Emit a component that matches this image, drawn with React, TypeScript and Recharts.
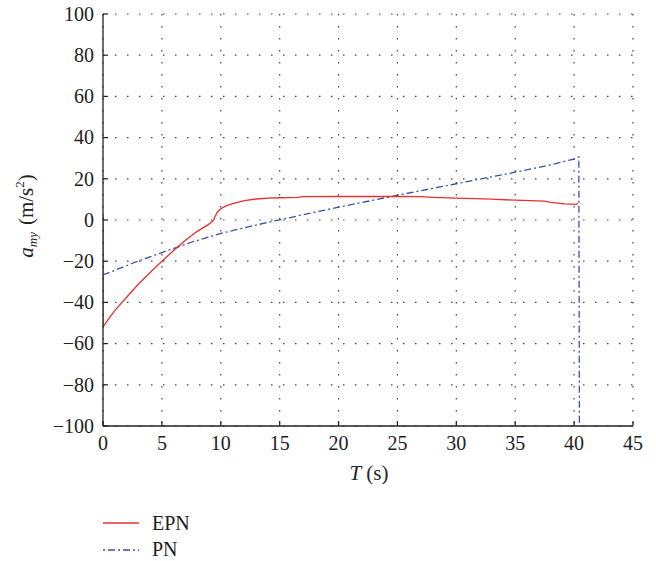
import { CartesianGrid, Line, LineChart, XAxis, YAxis } from "recharts";

// EPN acceleration curve
const epnTime = [0, 0, 0.5, 1, 2, 3, 4, 5, 6, 7, 8, 9, 9.4, 9.5, 9.7, 10, 10.5, 11, 12, 13, 14, 15, 16.5, 17, 20, 25, 27, 28, 30, 33, 35, 37.5, 38, 39.2, 40.2, 40.3];
const epnAcc = [3, -52, -47.8, -44, -37.5, -31.2, -25.5, -20, -14.8, -9.8, -5.5, -2, 0, 1.5, 3.8, 5.5, 7, 8, 9.4, 10.2, 10.6, 10.8, 11, 11.3, 11.4, 11.4, 11.3, 11, 10.6, 10.1, 9.6, 9.2, 8.6, 7.8, 7.6, 8.3];

// PN acceleration curve
const pnTime = [0, 2.5, 5, 7.5, 10, 12.5, 15, 17.5, 20, 22.5, 25, 27.5, 30, 32.5, 35, 37.5, 40, 40.4, 40.45];
const pnAcc = [-26.7, -21, -15.8, -10.8, -6.5, -3.1, 0.1, 3.2, 6.2, 9.1, 12, 14.8, 17.6, 20.4, 23.2, 26.1, 29.6, 30.6, -100];

const xTicks = [0, 5, 10, 15, 20, 25, 30, 35, 40, 45];
const yTicks = [-100, -80, -60, -40, -20, 0, 20, 40, 60, 80, 100];

const epn = epnTime.map((t, i) => ({ t, a: epnAcc[i] }));
const pn = pnTime.map((t, i) => ({ t, a: pnAcc[i] }));

const FONT = "'Liberation Serif', 'DejaVu Serif', serif";
const INK = "#222";
const RED = "#e8312f";
const BLUE = "#3a50a8";

const fmt = (v: number) => String(v).replace("-", "\u2212");

function BottomTick({ x, y, payload }: any) {
  return (
    <g>
      <line x1={x} x2={x} y1={y} y2={y - 5} stroke={INK} strokeWidth={1.2} />
      <text x={x} y={y + 24} textAnchor="middle" fontSize={20} fontFamily={FONT} fill={INK}>
        {fmt(payload.value)}
      </text>
    </g>
  );
}

function TopTick({ x, y }: any) {
  return <line x1={x} x2={x} y1={y} y2={y + 5} stroke={INK} strokeWidth={1.2} />;
}

function LeftTick({ x, y, payload }: any) {
  return (
    <g>
      <line x1={x} x2={x + 5} y1={y} y2={y} stroke={INK} strokeWidth={1.2} />
      <text x={x - 9} y={y} dy="0.34em" textAnchor="end" fontSize={20} fontFamily={FONT} fill={INK}>
        {fmt(payload.value)}
      </text>
    </g>
  );
}

function RightTick({ x, y }: any) {
  return <line x1={x} x2={x - 5} y1={y} y2={y} stroke={INK} strokeWidth={1.2} />;
}

const renderYLabel = () => (
  <text transform="translate(33,216) rotate(-90)" textAnchor="middle" fontSize={21} fontFamily={FONT} fill={INK}>
    <tspan fontStyle="italic">a</tspan>
    <tspan fontStyle="italic" fontSize={13} dy={4}>my</tspan>
    <tspan dy={-4} dx={7}>(m/s</tspan>
    <tspan fontSize={13} dy={-9}>2</tspan>
    <tspan dy={9}>)</tspan>
  </text>
);

const renderXLabel = () => (
  <text x={369} y={480} textAnchor="middle" fontSize={21} fontFamily={FONT} fill={INK}>
    <tspan fontStyle="italic">T</tspan>
    <tspan dx={5}>(s)</tspan>
  </text>
);

function LegendBox() {
  return (
    <div style={{ position: "absolute", left: 0, top: 0, pointerEvents: "none" }}>
      <svg width={656} height={561}>
        <line x1={103} x2={139} y1={523} y2={523} stroke={RED} strokeWidth={1.4} />
        <text x={152} y={530} fontSize={20} fontFamily={FONT} fill={INK}>EPN</text>
        <line x1={103} x2={139} y1={550} y2={550} stroke={BLUE} strokeWidth={1.4} strokeDasharray="2 3 7 3" />
        <text x={152} y={556} fontSize={20} fontFamily={FONT} fill={INK}>PN</text>
      </svg>
    </div>
  );
}

export default function App() {
  return (
    <div style={{ position: "absolute", left: 0, top: 0, width: 656, height: 561, background: "#fff", fontFamily: FONT }}>
      <LineChart width={656} height={561} margin={{ top: 14, right: 23, left: 43, bottom: 95 }}>
        <CartesianGrid xAxisId="bottom" yAxisId="left" stroke="#444" strokeDasharray="1.5 10.5" strokeWidth={1.2} />
        <XAxis
          xAxisId="bottom"
          dataKey="t"
          type="number"
          domain={[0, 45]}
          ticks={xTicks}
          interval={0}
          allowDataOverflow
          height={40}
          tickSize={0}
          tickMargin={0}
          tickLine={false}
          tick={<BottomTick />}
          axisLine={{ stroke: INK, strokeWidth: 1.3 }}
          label={{ content: renderXLabel }}
        />
        <XAxis
          xAxisId="top"
          orientation="top"
          dataKey="t"
          type="number"
          domain={[0, 45]}
          ticks={xTicks}
          interval={0}
          height={0}
          tickSize={0}
          tickMargin={0}
          tickLine={false}
          tick={<TopTick />}
          axisLine={{ stroke: INK, strokeWidth: 1.3 }}
        />
        <YAxis
          yAxisId="left"
          type="number"
          domain={[-100, 100]}
          ticks={yTicks}
          interval={0}
          allowDataOverflow
          width={60}
          tickSize={0}
          tickMargin={0}
          tickLine={false}
          tick={<LeftTick />}
          axisLine={{ stroke: INK, strokeWidth: 1.3 }}
          label={{ content: renderYLabel }}
        />
        <YAxis
          yAxisId="right"
          orientation="right"
          type="number"
          domain={[-100, 100]}
          ticks={yTicks}
          interval={0}
          width={0}
          tickSize={0}
          tickMargin={0}
          tickLine={false}
          tick={<RightTick />}
          axisLine={{ stroke: INK, strokeWidth: 1.3 }}
        />
        <Line
          xAxisId="bottom"
          yAxisId="left"
          data={pn}
          dataKey="a"
          type="linear"
          stroke={BLUE}
          strokeWidth={1.3}
          strokeDasharray="7 3 2 3"
          dot={false}
          activeDot={false}
          isAnimationActive={false}
        />
        <Line
          xAxisId="bottom"
          yAxisId="left"
          data={epn}
          dataKey="a"
          type="linear"
          stroke={RED}
          strokeWidth={1.3}
          dot={false}
          activeDot={false}
          isAnimationActive={false}
        />
      </LineChart>
      <LegendBox />
    </div>
  );
}
